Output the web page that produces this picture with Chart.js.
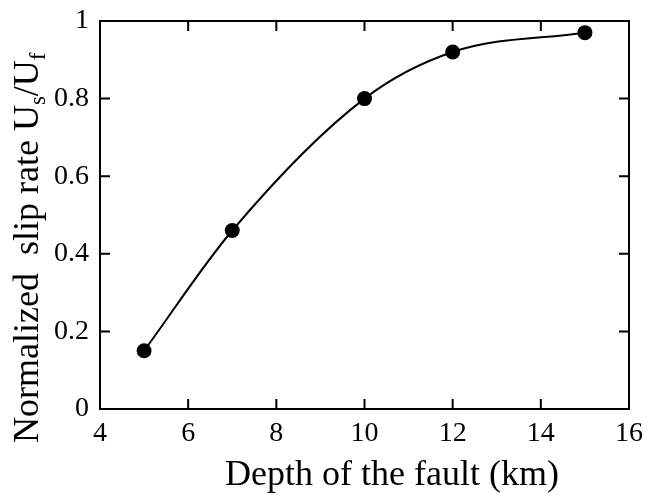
<!DOCTYPE html>
<html><head><meta charset="utf-8">
<script src="https://cdn.jsdelivr.net/npm/chart.js@4/dist/chart.umd.min.js"></script>
<style>html,body{margin:0;padding:0;background:#fff}#wrap{width:647px;height:495px}</style>
</head><body><div id="wrap"><canvas id="c" width="647" height="495"></canvas></div>
<script>
const depths = [5, 7, 10, 12, 15];
const slipRates = [0.15, 0.46, 0.80, 0.92, 0.97];
const xTicks = [4, 6, 8, 10, 12, 14, 16];
const yTicks = [0, 0.2, 0.4, 0.6, 0.8, 1];
const xTitle = 'Depth of the fault (km)';
const yTitleParts = [['Normalized  slip rate U', false], ['s', true], ['/U', false], ['f', true]];

const FONT = '"Liberation Serif", "Times New Roman", serif';

const framePlugin = {
  id: 'frame',
  afterDraw(chart) {
    const { ctx, chartArea: a, scales: { x, y } } = chart;
    ctx.save();
    ctx.strokeStyle = '#000';
    ctx.lineWidth = 2;
    ctx.strokeRect(a.left, a.top, a.right - a.left, a.bottom - a.top);
    ctx.beginPath();
    xTicks.forEach(v => {
      const px = x.getPixelForValue(v);
      ctx.moveTo(px, a.bottom); ctx.lineTo(px, a.bottom - 10);
      ctx.moveTo(px, a.top); ctx.lineTo(px, a.top + 10);
    });
    yTicks.forEach(v => {
      const py = y.getPixelForValue(v);
      ctx.moveTo(a.left, py); ctx.lineTo(a.left + 10, py);
      ctx.moveTo(a.right, py); ctx.lineTo(a.right - 10, py);
    });
    ctx.stroke();

    ctx.fillStyle = '#000';
    ctx.font = '36px ' + FONT;
    ctx.textAlign = 'center';
    ctx.textBaseline = 'alphabetic';
    ctx.fillText(xTitle, 392, 485);

    ctx.translate(38, 443);
    ctx.rotate(-Math.PI / 2);
    ctx.textAlign = 'left';
    let cx = 0;
    yTitleParts.forEach(([t, sub]) => {
      ctx.font = (sub ? '23px ' : '36px ') + FONT;
      ctx.fillText(t, cx, sub ? 7 : 0);
      cx += ctx.measureText(t).width;
    });
    ctx.restore();
  }
};

new Chart(document.getElementById('c'), {
  type: 'line',
  data: {
    datasets: [{
      data: depths.map((d, i) => ({ x: d, y: slipRates[i] })),
      borderColor: '#000',
      backgroundColor: '#000',
      borderWidth: 2,
      pointRadius: 7.5,
      pointHoverRadius: 7.5,
      pointBackgroundColor: '#000',
      pointBorderWidth: 0,
      cubicInterpolationMode: 'monotone',
      fill: false
    }]
  },
  options: {
    responsive: false,
    devicePixelRatio: 1,
    animation: false,
    events: [],
    layout: { padding: { left: 0, top: 21, right: 18, bottom: 0 } },
    plugins: { legend: { display: false }, tooltip: { enabled: false } },
    scales: {
      x: {
        type: 'linear', min: 4, max: 16,
        afterBuildTicks: s => { s.ticks = xTicks.map(v => ({ value: v })); },
        afterFit: s => { s.height = 86; s.paddingLeft = 0; s.paddingRight = 0; },
        grid: { display: false, drawTicks: false },
        border: { display: false },
        ticks: { color: '#000', padding: 8, font: { family: FONT, size: 28 }, maxRotation: 0,
                 callback: v => String(v) }
      },
      y: {
        type: 'linear', min: 0, max: 1,
        afterBuildTicks: s => { s.ticks = yTicks.map(v => ({ value: v })); },
        afterFit: s => { s.width = 100; s.paddingTop = 0; s.paddingBottom = 0; },
        grid: { display: false, drawTicks: false },
        border: { display: false },
        ticks: { color: '#000', padding: 11, font: { family: FONT, size: 28 },
                 callback: v => String(v) }
      }
    }
  },
  plugins: [framePlugin]
});
</script>
</body></html>
